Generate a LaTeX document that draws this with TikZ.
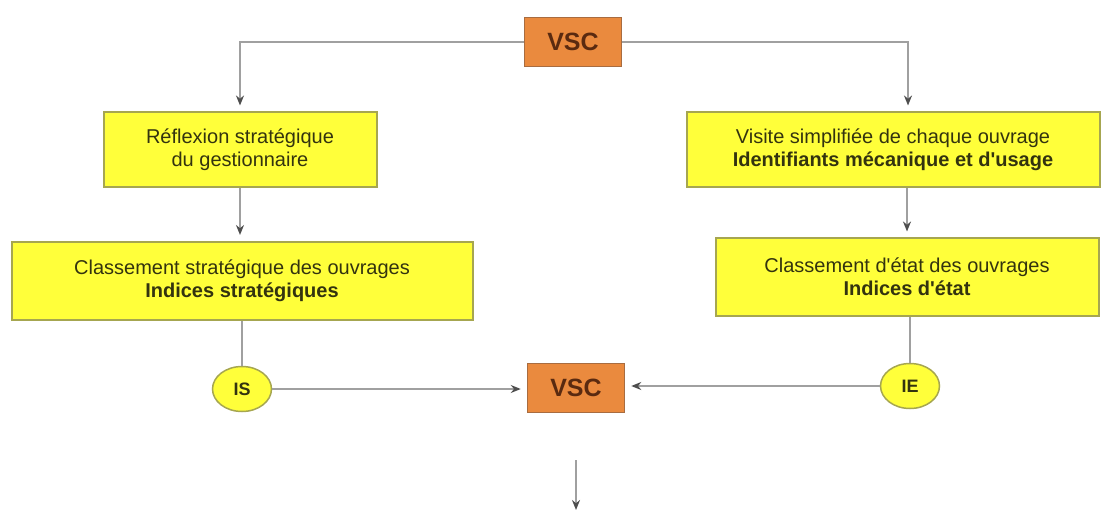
\documentclass[tikz,border=0pt]{standalone}
\usepackage{fontspec}
\setmainfont{Liberation Sans}
\usetikzlibrary{arrows.meta,shapes.geometric}
\definecolor{boxfill}{HTML}{FFFF3A}
\definecolor{boxline}{HTML}{A6A650}
\definecolor{vscfill}{HTML}{EA8A3E}
\definecolor{vscline}{HTML}{A86C40}
\definecolor{vsctext}{HTML}{5A2A10}
\definecolor{txt}{HTML}{33330F}
\definecolor{linegray}{HTML}{A0A0A0}
\definecolor{tipgray}{HTML}{4E4E4E}
\tikzset{
  box/.style={draw=boxline,line width=2pt,fill=boxfill,text=txt,align=center,inner sep=0pt,
    font=\fontsize{20}{23}\selectfont},
  vsc/.style={draw=vscline,line width=1.5pt,fill=vscfill,text=vsctext,inner sep=0pt,
    minimum width=97pt,minimum height=49pt,font=\fontsize{25}{28}\selectfont\bfseries},
  ind/.style={ellipse,draw=boxline,line width=1.5pt,fill=boxfill,text=txt,inner sep=0pt,
    minimum width=59pt,minimum height=45pt,font=\fontsize{18}{20}\selectfont\bfseries},
  link/.style={draw=linegray,line width=2.2pt,-{Stealth[length=10pt,width=8pt,color=tipgray]},shorten >=6pt},
  bare/.style={draw=linegray,line width=2.2pt}
}
\begin{document}
\begin{tikzpicture}[x=1pt,y=-1pt]
    \useasboundingbox (0,0) rectangle (1115,510);
    \node[vsc] (v1) at (573,42) {VSC};
    \node[box,minimum width=273pt,minimum height=75pt] (r1) at (240,150) {Réflexion stratégique\\du gestionnaire};
    \node[box,minimum width=413pt,minimum height=75pt] (r2) at (893,150) {Visite simplifiée de chaque ouvrage\\\textbf{Identifiants mécanique et d\textquotesingle usage}};
    \node[box,minimum width=461pt,minimum height=78pt] (c1) at (242,281) {Classement stratégique des ouvrages\\\textbf{Indices stratégiques}};
    \node[box,minimum width=383pt,minimum height=77pt] (c2) at (907,277) {Classement d\textquotesingle état des ouvrages\\\textbf{Indices d\textquotesingle état}};
    \node[ind] (is) at (242,389) {IS};
    \node[ind] (ie) at (910,386) {IE};
    \node[vsc] (v2) at (576,388) {VSC};
    \coordinate (o1) at (576,460);
    \coordinate (o2) at (576,510);
    \draw[link] (v1.west) -| (r1.north);
    \draw[link] (v1.east) -| ([xshift=15pt]r2.north);
    \draw[link] (r1.south) -- (r1.south |- c1.north);
    \draw[link] (c2.north |- r2.south) -- (c2.north);
    \draw[bare] (c1.south) -- (is.north);
    \draw[bare] (ie.north |- c2.south) -- (ie.north);
    \draw[link] (is.east) -- (is.east -| v2.west);
    \draw[link] (ie.west) -- (ie.west -| v2.east);
    \draw[link,shorten >=0pt] (o1) -- (o2);
\end{tikzpicture}
\end{document}
